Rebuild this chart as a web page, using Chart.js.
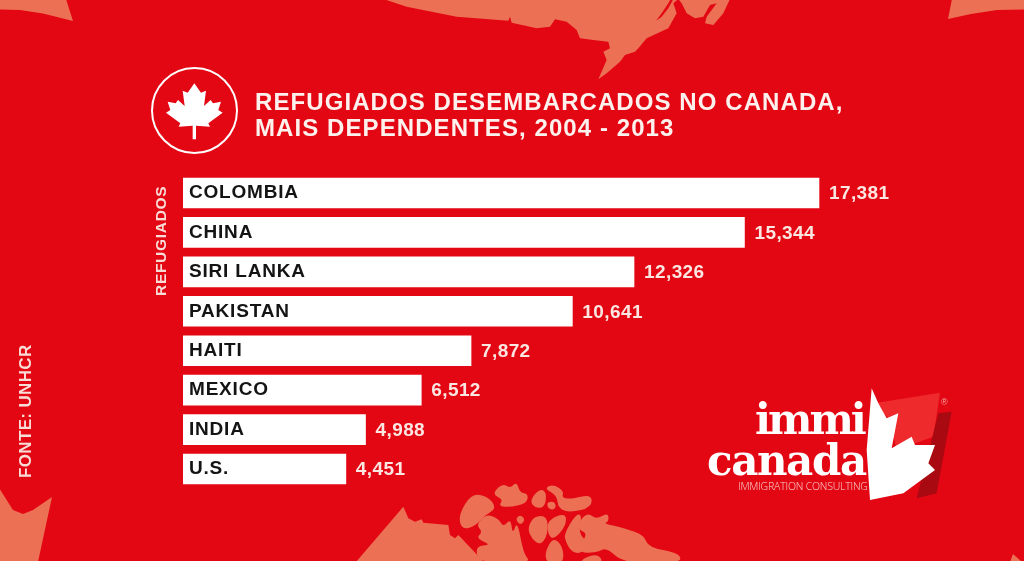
<!DOCTYPE html>
<html><head><meta charset="utf-8">
<style>html,body{margin:0;padding:0;background:#e30613;overflow:hidden}#w{width:1024px;height:561px;position:relative}</style>
<script src="https://cdn.jsdelivr.net/npm/chart.js@4"></script>
</head><body><div id="w"><canvas id="c"></canvas></div>
<script>
const categories=['COLOMBIA','CHINA','SIRI LANKA','PAKISTAN','HAITI','MEXICO','INDIA','U.S.'];
const refugees=[17381,15344,12326,10641,7872,6512,4988,4451];
const titleLines=['REFUGIADOS DESEMBARCADOS NO CANADA,','MAIS DEPENDENTES, 2004 - 2013'];
const axisTitle='REFUGIADOS';
const sourceText='FONTE: UNHCR';
const RED='#e30613',SALMON='#ec7053',WHITE='#fff',SANS="'Liberation Sans'";

function poly(ctx,pts,ox,oy,s,fill){ctx.beginPath();pts.forEach((p,i)=>{const x=p[0]*s+ox,y=p[1]*s+oy;i?ctx.lineTo(x,y):ctx.moveTo(x,y)});ctx.closePath();ctx.fillStyle=fill;ctx.fill();}
function blob(ctx,pts,ox,oy,s,fill){
  const P=pts.map(p=>[p[0]*s+ox,p[1]*s+oy]),n=P.length,mid=(a,b)=>[(a[0]+b[0])/2,(a[1]+b[1])/2];
  ctx.beginPath();let m=mid(P[n-1],P[0]);ctx.moveTo(m[0],m[1]);
  for(let i=0;i<n;i++){m=mid(P[i],P[(i+1)%n]);ctx.quadraticCurveTo(P[i][0],P[i][1],m[0],m[1]);}
  ctx.closePath();ctx.fillStyle=fill;ctx.fill();
}
const third=1/3;
const topMap=[[130,-3],[200,20],[350,50],[505,62],[510,50],[515,68],[590,85],[630,80],[645,58],[680,65],[710,90],[720,115],[760,120],[805,125],[810,145],[790,155],[800,180],[775,238],[800,220],[840,185],[855,165],[885,155],[895,145],[920,115],[985,85],[1010,40],[1000,10],[1015,-3],[1025,10],[1040,40],[1065,55],[1090,50],[1110,15],[1130,10],[1100,50],[1095,70],[1120,75],[1150,40],[1170,-3]];
const topSlit=[[948,62],[965,40],[985,10],[992,-3],[1000,-3],[985,25],[965,50]];
const mainland=[[48,276],[190,110],[205,145],[225,155],[245,148],[250,158],[325,165],[330,195],[345,205],[355,195],[432,276]];
const arctic=[
[[355,135],[395,70],[445,80],[470,115],[435,135],[405,170],[365,178]],
[[455,72],[488,40],[510,55],[530,35],[540,68],[565,72],[560,100],[510,112],[475,108],[490,88]],
[[568,92],[600,55],[620,68],[615,110],[588,116]],
[[622,95],[645,95],[648,115],[632,120],[622,110]],
[[612,55],[640,42],[672,65],[665,82],[690,88],[755,72],[755,112],[690,128],[655,115],[650,75]],
[[408,165],[438,132],[475,145],[490,172],[512,145],[518,195],[532,150],[550,250],[575,280],[418,280],[405,228],[455,225],[408,205],[428,185]],
[[526,146],[542,134],[556,150],[540,166]],
[[562,175],[582,138],[622,138],[624,192],[602,226],[576,208]],
[[622,150],[678,128],[678,168],[642,208],[624,195]],
[[615,245],[640,202],[668,228],[672,280],[620,280]],
[[672,192],[708,132],[726,135],[716,190],[742,215],[725,252],[695,245],[678,218]],
[[720,150],[745,128],[768,148],[805,128],[806,155],[790,160],[855,175],[912,195],[925,232],[1020,250],[1022,280],[850,280],[800,232],[770,248],[715,248],[730,210],[740,190],[715,178]],
[[725,268],[772,250],[792,280],[725,280]]
];
const cornerTL=[[0,-1],[0,9.5],[20,10],[43,13.5],[73,21],[66,-1]];
const cornerTR=[[952,-1],[948,19],[971,14],[997,10],[1025,9.5],[1025,-1]];
const cornerBL=[[-1,488],[13,510],[23,514],[33,510],[52,497],[38,562],[-1,562]];
const cornerBR=[[1013,554],[1010,562],[1022,562]];
const leafHalf=[[163,70],[183,98],[198,92],[192,138],[212,120],[219,130],[243,125],[235,150],[248,158],[205,190],[210,200],[168,197],[168,238]];
const logoFlag=[[552,100],[750,68],[730,200],[620,240],[600,150]];
const logoStrip=[[745,130],[785,125],[740,370],[680,385]];
const logoLeaf=[[545,55],[565,100],[590,145],[625,130],[605,235],[665,200],[675,225],[735,225],[715,280],[735,300],[640,370],[540,390],[530,240]];

const backdrop={id:'backdrop',beforeDraw(chart){
  const ctx=chart.ctx;ctx.save();
  ctx.fillStyle=RED;ctx.fillRect(0,0,1024,561);
  poly(ctx,topMap,340,0,third,SALMON);poly(ctx,topSlit,340,0,third,RED);
  poly(ctx,mainland,340,470,third,SALMON);
  arctic.forEach(p=>blob(ctx,p,340,470,third,SALMON));
  [cornerTL,cornerTR,cornerBL,cornerBR].forEach(p=>poly(ctx,p,0,0,1,SALMON));
  ctx.beginPath();ctx.arc(194.5,110.5,42.5,0,Math.PI*2);ctx.strokeStyle='#fff';ctx.lineWidth=2;ctx.stroke();
  const full=leafHalf.concat(leafHalf.slice().reverse().map(p=>[326-p[0],p[1]]));
  poly(ctx,full,140,60,third,WHITE);
  poly(ctx,logoFlag,690,370,third,'#ee2a2c');poly(ctx,logoStrip,690,370,third,'#a90a12');poly(ctx,logoLeaf,690,370,third,WHITE);
  ctx.fillStyle='#fff';ctx.textBaseline='alphabetic';ctx.textAlign='left';
  ctx.font="bold 42px 'DejaVu Serif'";ctx.letterSpacing='-3px';ctx.fillText('immi',755,434);
  ctx.letterSpacing='-1.4px';ctx.fillText('canada',707,475);
  ctx.font="300 10.5px 'Open Sans'";ctx.letterSpacing='-0.2px';ctx.fillStyle='#f9d5d0';ctx.fillText('IMMIGRATION CONSULTING',738,490);
  ctx.font="9px "+SANS;ctx.letterSpacing='0px';ctx.fillStyle='#f4a9a0';ctx.fillText('®',941,405);
  ctx.fillStyle='#fdf1ee';ctx.font="bold 24px "+SANS;ctx.letterSpacing='1.08px';
  ctx.fillText(titleLines[0],255,110);ctx.fillText(titleLines[1],255,136);
  ctx.fillStyle='#f9dcd6';ctx.font="bold 15.5px "+SANS;ctx.letterSpacing='0.7px';
  ctx.save();ctx.translate(165.5,296);ctx.rotate(-Math.PI/2);ctx.fillText(axisTitle,0,0);ctx.restore();
  ctx.font="bold 17px "+SANS;ctx.letterSpacing='0.35px';
  ctx.save();ctx.translate(31,478);ctx.rotate(-Math.PI/2);ctx.fillText(sourceText,0,0);ctx.restore();
  ctx.restore();
  ctx.letterSpacing='0.8px';
}};
const valueLabels={id:'valueLabels',afterDatasetsDraw(chart){
  const ctx=chart.ctx,m=chart.getDatasetMeta(0);ctx.save();
  ctx.font="bold 19px "+SANS;ctx.letterSpacing='0.4px';ctx.fillStyle='#fbe6e2';ctx.textAlign='left';ctx.textBaseline='middle';
  m.data.forEach((b,i)=>ctx.fillText(refugees[i].toLocaleString('en-US'),b.x+10,b.y+1));
  ctx.restore();
}};
new Chart(document.getElementById('c'),{
  type:'bar',
  data:{labels:categories,datasets:[{label:axisTitle,data:refugees,backgroundColor:WHITE,borderWidth:0,barThickness:30}]},
  options:{indexAxis:'y',responsive:true,maintainAspectRatio:false,animation:false,
    layout:{padding:{left:171,right:36,top:173.3,bottom:72.3}},
    plugins:{legend:{display:false},title:{display:false},tooltip:{enabled:false}},
    scales:{
      x:{display:false,min:0,max:22000},
      y:{grid:{display:false,drawTicks:false},border:{display:false},
         ticks:{z:1,mirror:true,padding:6,color:'#141414',font:{family:'Liberation Sans',size:19,weight:'bold'}}}
    }},
  plugins:[backdrop,valueLabels]
});
</script></body></html>
